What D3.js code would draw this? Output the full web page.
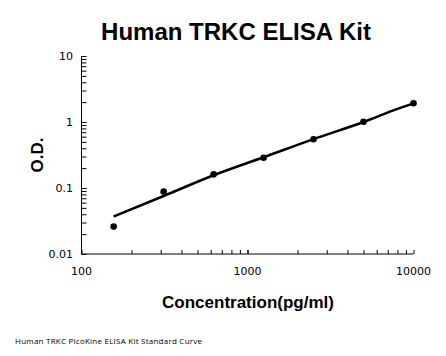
<!DOCTYPE html>
<html><head><meta charset="utf-8">
<script src="https://cdn.jsdelivr.net/npm/d3@7"></script>
<style>body{margin:0;background:#fff}svg{display:block}</style>
</head><body>
<script>
const concentrations = [156.25, 312.5, 625, 1250, 2500, 5000, 10000];
const odValues = [0.026, 0.088, 0.161, 0.288, 0.547, 1.01, 1.92];
const curveConc = [156.25, 312.5, 625, 1250, 2500, 5000, 8000, 10000];
const curveOD = [0.037, 0.0757, 0.156, 0.292, 0.55, 1.0, 1.58, 1.92];
const xTickValues = [100, 1000, 10000];
const yTickValues = [0.01, 0.1, 1, 10];
const titleText = "Human TRKC ELISA Kit";
const xLabel = "Concentration(pg/ml)";
const yLabel = "O.D.";
const footer = "Human TRKC PicoKine ELISA Kit Standard Curve";

const W = 446, H = 356;
const svg = d3.select("body").append("svg").attr("width", W).attr("height", H);
const x = d3.scaleLog().domain([100, 10000]).range([81.5, 413.5]);
const y = d3.scaleLog().domain([0.01, 10]).range([254, 56]);

function minors(lo, hi) {
  const out = [];
  for (let d = lo; d < hi; d *= 10) for (let k = 1; k <= 10; k++) out.push(d * k);
  return out;
}
const xMinor = minors(100, 10000).filter(v => v <= 10000);
const yMinor = minors(0.01, 10).filter(v => v <= 10);

// x axis
const gx = svg.append("g").attr("transform", "translate(0,254)");
gx.call(d3.axisBottom(x).tickValues(xMinor).tickSize(-4).tickFormat(""));
gx.select(".domain").attr("d", `M${x(100)},0H${x(10000)}`);
gx.selectAll("line,path").attr("stroke", "#000").attr("stroke-width", 1);
svg.append("g").selectAll("text").data(xTickValues).join("text")
  .attr("x", d => x(d)).attr("y", 275).attr("text-anchor", "middle")
  .attr("font-family", "DejaVu Sans").attr("font-size", 11).text(d => d);

// y axis
const gy = svg.append("g").attr("transform", "translate(81.5,0)");
gy.call(d3.axisLeft(y).tickValues(yMinor).tickSize(-5).tickFormat(""));
gy.select(".domain").attr("d", `M0,${y(0.01)}V${y(10)}`);
gy.selectAll("line,path").attr("stroke", "#000").attr("stroke-width", 1);
svg.append("g").selectAll("text").data(yTickValues).join("text")
  .attr("x", 73).attr("y", d => y(d)).attr("dy", "0.35em").attr("text-anchor", "end")
  .attr("font-family", "DejaVu Sans").attr("font-size", 11).text(d => d);

// curve
const line = d3.line().x(d => x(d[0])).y(d => y(d[1])).curve(d3.curveMonotoneX);
svg.append("path").datum(curveConc.map((c, i) => [c, curveOD[i]]))
  .attr("d", line).attr("fill", "none").attr("stroke", "#000").attr("stroke-width", 2.5);

// points
svg.append("g").selectAll("circle").data(concentrations.map((c, i) => [c, odValues[i]])).join("circle")
  .attr("cx", d => x(d[0])).attr("cy", d => y(d[1])).attr("r", 3.3).attr("fill", "#000");

// titles
svg.append("text").attr("x", 236).attr("y", 40).attr("text-anchor", "middle")
  .attr("font-family", "Liberation Sans, Arial").attr("font-weight", "bold").attr("font-size", 24).text(titleText);
svg.append("text").attr("x", 248).attr("y", 307.5).attr("text-anchor", "middle")
  .attr("font-family", "Liberation Sans, Arial").attr("font-weight", "bold").attr("font-size", 17).text(xLabel);
svg.append("text").attr("transform", "translate(43,155) rotate(-90)").attr("text-anchor", "middle")
  .attr("font-family", "Liberation Sans, Arial").attr("font-weight", "bold").attr("font-size", 17).text(yLabel);
svg.append("text").attr("x", 15).attr("y", 344)
  .attr("font-family", "Open Sans").attr("font-size", 8).attr("textLength", 187).text(footer);
</script>
</body></html>
